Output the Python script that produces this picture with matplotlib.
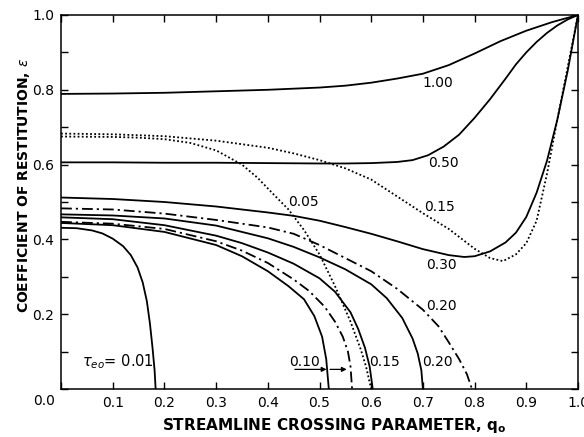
import matplotlib
matplotlib.use("Agg")
import matplotlib.pyplot as plt

# curves (q_o, epsilon)
q_100 = [0, 0.1, 0.2, 0.3, 0.4, 0.5, 0.55, 0.6, 0.65, 0.7, 0.75, 0.8, 0.85, 0.9, 0.95, 1.0]
e_100 = [0.789, 0.790, 0.792, 0.796, 0.800, 0.806, 0.811, 0.819, 0.830, 0.843, 0.866, 0.897, 0.930, 0.958, 0.981, 1.0]

q_050 = [0, 0.1, 0.2, 0.3, 0.4, 0.5, 0.55, 0.6, 0.65, 0.68, 0.71, 0.74, 0.77, 0.8, 0.83, 0.86,
         0.88, 0.9, 0.92, 0.94, 0.96, 0.98, 1.0]
e_050 = [0.606, 0.606, 0.605, 0.605, 0.604, 0.603, 0.603, 0.604, 0.607, 0.612, 0.625, 0.648, 0.680,
         0.725, 0.775, 0.830, 0.868, 0.900, 0.928, 0.952, 0.972, 0.988, 1.0]

q_030 = [0, 0.1, 0.2, 0.3, 0.4, 0.45, 0.5, 0.55, 0.6, 0.65, 0.7, 0.75, 0.78, 0.8, 0.83, 0.86,
         0.88, 0.9, 0.92, 0.94, 0.96, 0.98, 1.0]
e_030 = [0.512, 0.508, 0.500, 0.488, 0.472, 0.463, 0.450, 0.433, 0.415, 0.395, 0.374, 0.358, 0.353,
         0.355, 0.368, 0.392, 0.418, 0.460, 0.525, 0.610, 0.720, 0.850, 1.0]

q_015d = [0, 0.1, 0.2, 0.3, 0.4, 0.45, 0.5, 0.55, 0.6, 0.65, 0.7, 0.75, 0.8, 0.83, 0.855, 0.88,
          0.9, 0.92, 0.94, 0.96, 0.98, 1.0]
e_015d = [0.683, 0.681, 0.676, 0.664, 0.645, 0.630, 0.612, 0.590, 0.560, 0.515, 0.470, 0.428, 0.375,
          0.350, 0.342, 0.360, 0.390, 0.450, 0.575, 0.720, 0.860, 1.0]

q_005d = [0, 0.1, 0.15, 0.2, 0.25, 0.3, 0.35, 0.38, 0.41, 0.44, 0.47, 0.5, 0.53, 0.56, 0.58, 0.59, 0.6]
e_005d = [0.675, 0.674, 0.672, 0.668, 0.658, 0.638, 0.600, 0.565, 0.522, 0.480, 0.425, 0.360, 0.275,
          0.180, 0.105, 0.060, 0.0]

q_020dd = [0, 0.1, 0.2, 0.3, 0.4, 0.45, 0.5, 0.55, 0.6, 0.65, 0.7, 0.73, 0.75, 0.77, 0.785, 0.795]
e_020dd = [0.483, 0.480, 0.469, 0.452, 0.432, 0.415, 0.385, 0.350, 0.315, 0.268, 0.212, 0.168, 0.125,
           0.080, 0.040, 0.0]

q_020 = [0, 0.1, 0.2, 0.3, 0.4, 0.45, 0.5, 0.55, 0.6, 0.63, 0.66, 0.68, 0.69, 0.697, 0.70]
e_020 = [0.467, 0.464, 0.456, 0.437, 0.403, 0.380, 0.352, 0.320, 0.280, 0.243, 0.190, 0.135, 0.095,
         0.050, 0.0]

q_015 = [0, 0.1, 0.2, 0.3, 0.35, 0.4, 0.45, 0.5, 0.53, 0.56, 0.575, 0.588, 0.597, 0.603]
e_015 = [0.459, 0.454, 0.438, 0.410, 0.390, 0.365, 0.335, 0.296, 0.260, 0.205, 0.160, 0.110, 0.060, 0.0]

q_010dd = [0, 0.1, 0.2, 0.3, 0.35, 0.4, 0.45, 0.48, 0.51, 0.53, 0.545, 0.555, 0.56, 0.563]
e_010dd = [0.447, 0.442, 0.428, 0.395, 0.370, 0.337, 0.293, 0.262, 0.220, 0.180, 0.140, 0.100, 0.060, 0.0]

q_010 = [0, 0.1, 0.2, 0.3, 0.35, 0.4, 0.44, 0.47, 0.49, 0.505, 0.513, 0.518]
e_010 = [0.444, 0.438, 0.420, 0.385, 0.355, 0.315, 0.275, 0.240, 0.195, 0.140, 0.080, 0.0]

q_001 = [0, 0.03, 0.06, 0.08, 0.1, 0.12, 0.135, 0.148, 0.158, 0.166, 0.172, 0.177, 0.181, 0.183]
e_001 = [0.431, 0.430, 0.424, 0.416, 0.402, 0.382, 0.358, 0.325, 0.285, 0.235, 0.175, 0.110, 0.050, 0.0]

x_ticks = [0.0, 0.1, 0.2, 0.3, 0.4, 0.5, 0.6, 0.7, 0.8, 0.9, 1.0]
x_labels = ['', '0.1', '0.2', '0.3', '0.4', '0.5', '0.6', '0.7', '0.8', '0.9', '1.0']
y_ticks = [0.0, 0.2, 0.4, 0.6, 0.8, 1.0]
y_labels = ['', '0.2', '0.4', '0.6', '0.8', '1.0']
y_minor = [0.1, 0.3, 0.5, 0.7, 0.9]

plt.rcParams['font.family'] = ['DejaVu Sans']
plt.rcParams['mathtext.fontset'] = 'dejavusans'

fig = plt.figure(figsize=(5.84, 4.37), dpi=100)
ax = fig.add_axes([0.1045, 0.1098, 0.8852, 0.8559])

solid = dict(color='black', lw=1.3, ls='-')
dashdot = dict(color='black', lw=1.3, ls=(0, (6, 2.2, 1.2, 2.2)))
dotted = dict(color='black', lw=1.3, ls=(0, (1, 1.3)))

ax.plot(q_100, e_100, **solid)
ax.plot(q_050, e_050, **solid)
ax.plot(q_030, e_030, **solid)
ax.plot(q_015d, e_015d, **dotted)
ax.plot(q_005d, e_005d, **dotted)
ax.plot(q_020dd, e_020dd, **dashdot)
ax.plot(q_020, e_020, **solid)
ax.plot(q_015, e_015, **solid)
ax.plot(q_010dd, e_010dd, **dashdot)
ax.plot(q_010, e_010, **solid)
ax.plot(q_001, e_001, **solid)

fs = 10
ax.text(0.729, 0.819, '1.00', fontsize=fs, ha='center', va='center')
ax.text(0.739, 0.604, '0.50', fontsize=fs, ha='center', va='center')
ax.text(0.468, 0.500, '0.05', fontsize=fs, ha='center', va='center')
ax.text(0.733, 0.486, '0.15', fontsize=fs, ha='center', va='center')
ax.text(0.736, 0.331, '0.30', fontsize=fs, ha='center', va='center')
ax.text(0.736, 0.221, '0.20', fontsize=fs, ha='center', va='center')
ax.text(0.729, 0.073, '0.20', fontsize=fs, ha='center', va='center')
ax.text(0.626, 0.073, '0.15', fontsize=fs, ha='center', va='center')
ax.text(0.471, 0.073, '0.10', fontsize=fs, ha='center', va='center')
ax.text(0.180, 0.073, r'$\tau_{eo}$= 0.01', fontsize=10.5, ha='right', va='center')

# arrow under 0.10 pointing to the solid and dash-dot curves
ax.annotate('', xy=(0.519, 0.0525), xytext=(0.447, 0.0525),
            arrowprops=dict(arrowstyle='-|>', color='black', lw=0.9, mutation_scale=7))
ax.annotate('', xy=(0.558, 0.0525), xytext=(0.515, 0.0525),
            arrowprops=dict(arrowstyle='-|>', color='black', lw=0.9, mutation_scale=7))

ax.set_xticks(x_ticks)
ax.set_xticklabels(x_labels)
ax.set_yticks(y_ticks)
ax.set_yticklabels(y_labels)
ax.set_yticks(y_minor, minor=True)
ax.set_xlim(0, 1)
ax.set_ylim(0, 1)
ax.tick_params(which='both', direction='in', top=True, right=True, length=5, width=1.0,
               labelsize=fs, pad=5)

# shared "0.0" at the corner
ax.text(-0.033, -0.032, '0.0', fontsize=fs, ha='center', va='center', transform=ax.transAxes)

for s in ax.spines.values():
    s.set_linewidth(1.1)

ax.set_xlabel(r'STREAMLINE CROSSING PARAMETER, $\mathbf{q_o}$', fontsize=11, fontweight='bold')
ax.set_ylabel(r'COEFFICIENT OF RESTITUTION, $\epsilon$', fontsize=10, fontweight='bold')
ax.xaxis.set_label_coords(0.528, -0.072)
ax.yaxis.set_label_coords(-0.056, 0.545)

fig.savefig('out.png', dpi=100)
